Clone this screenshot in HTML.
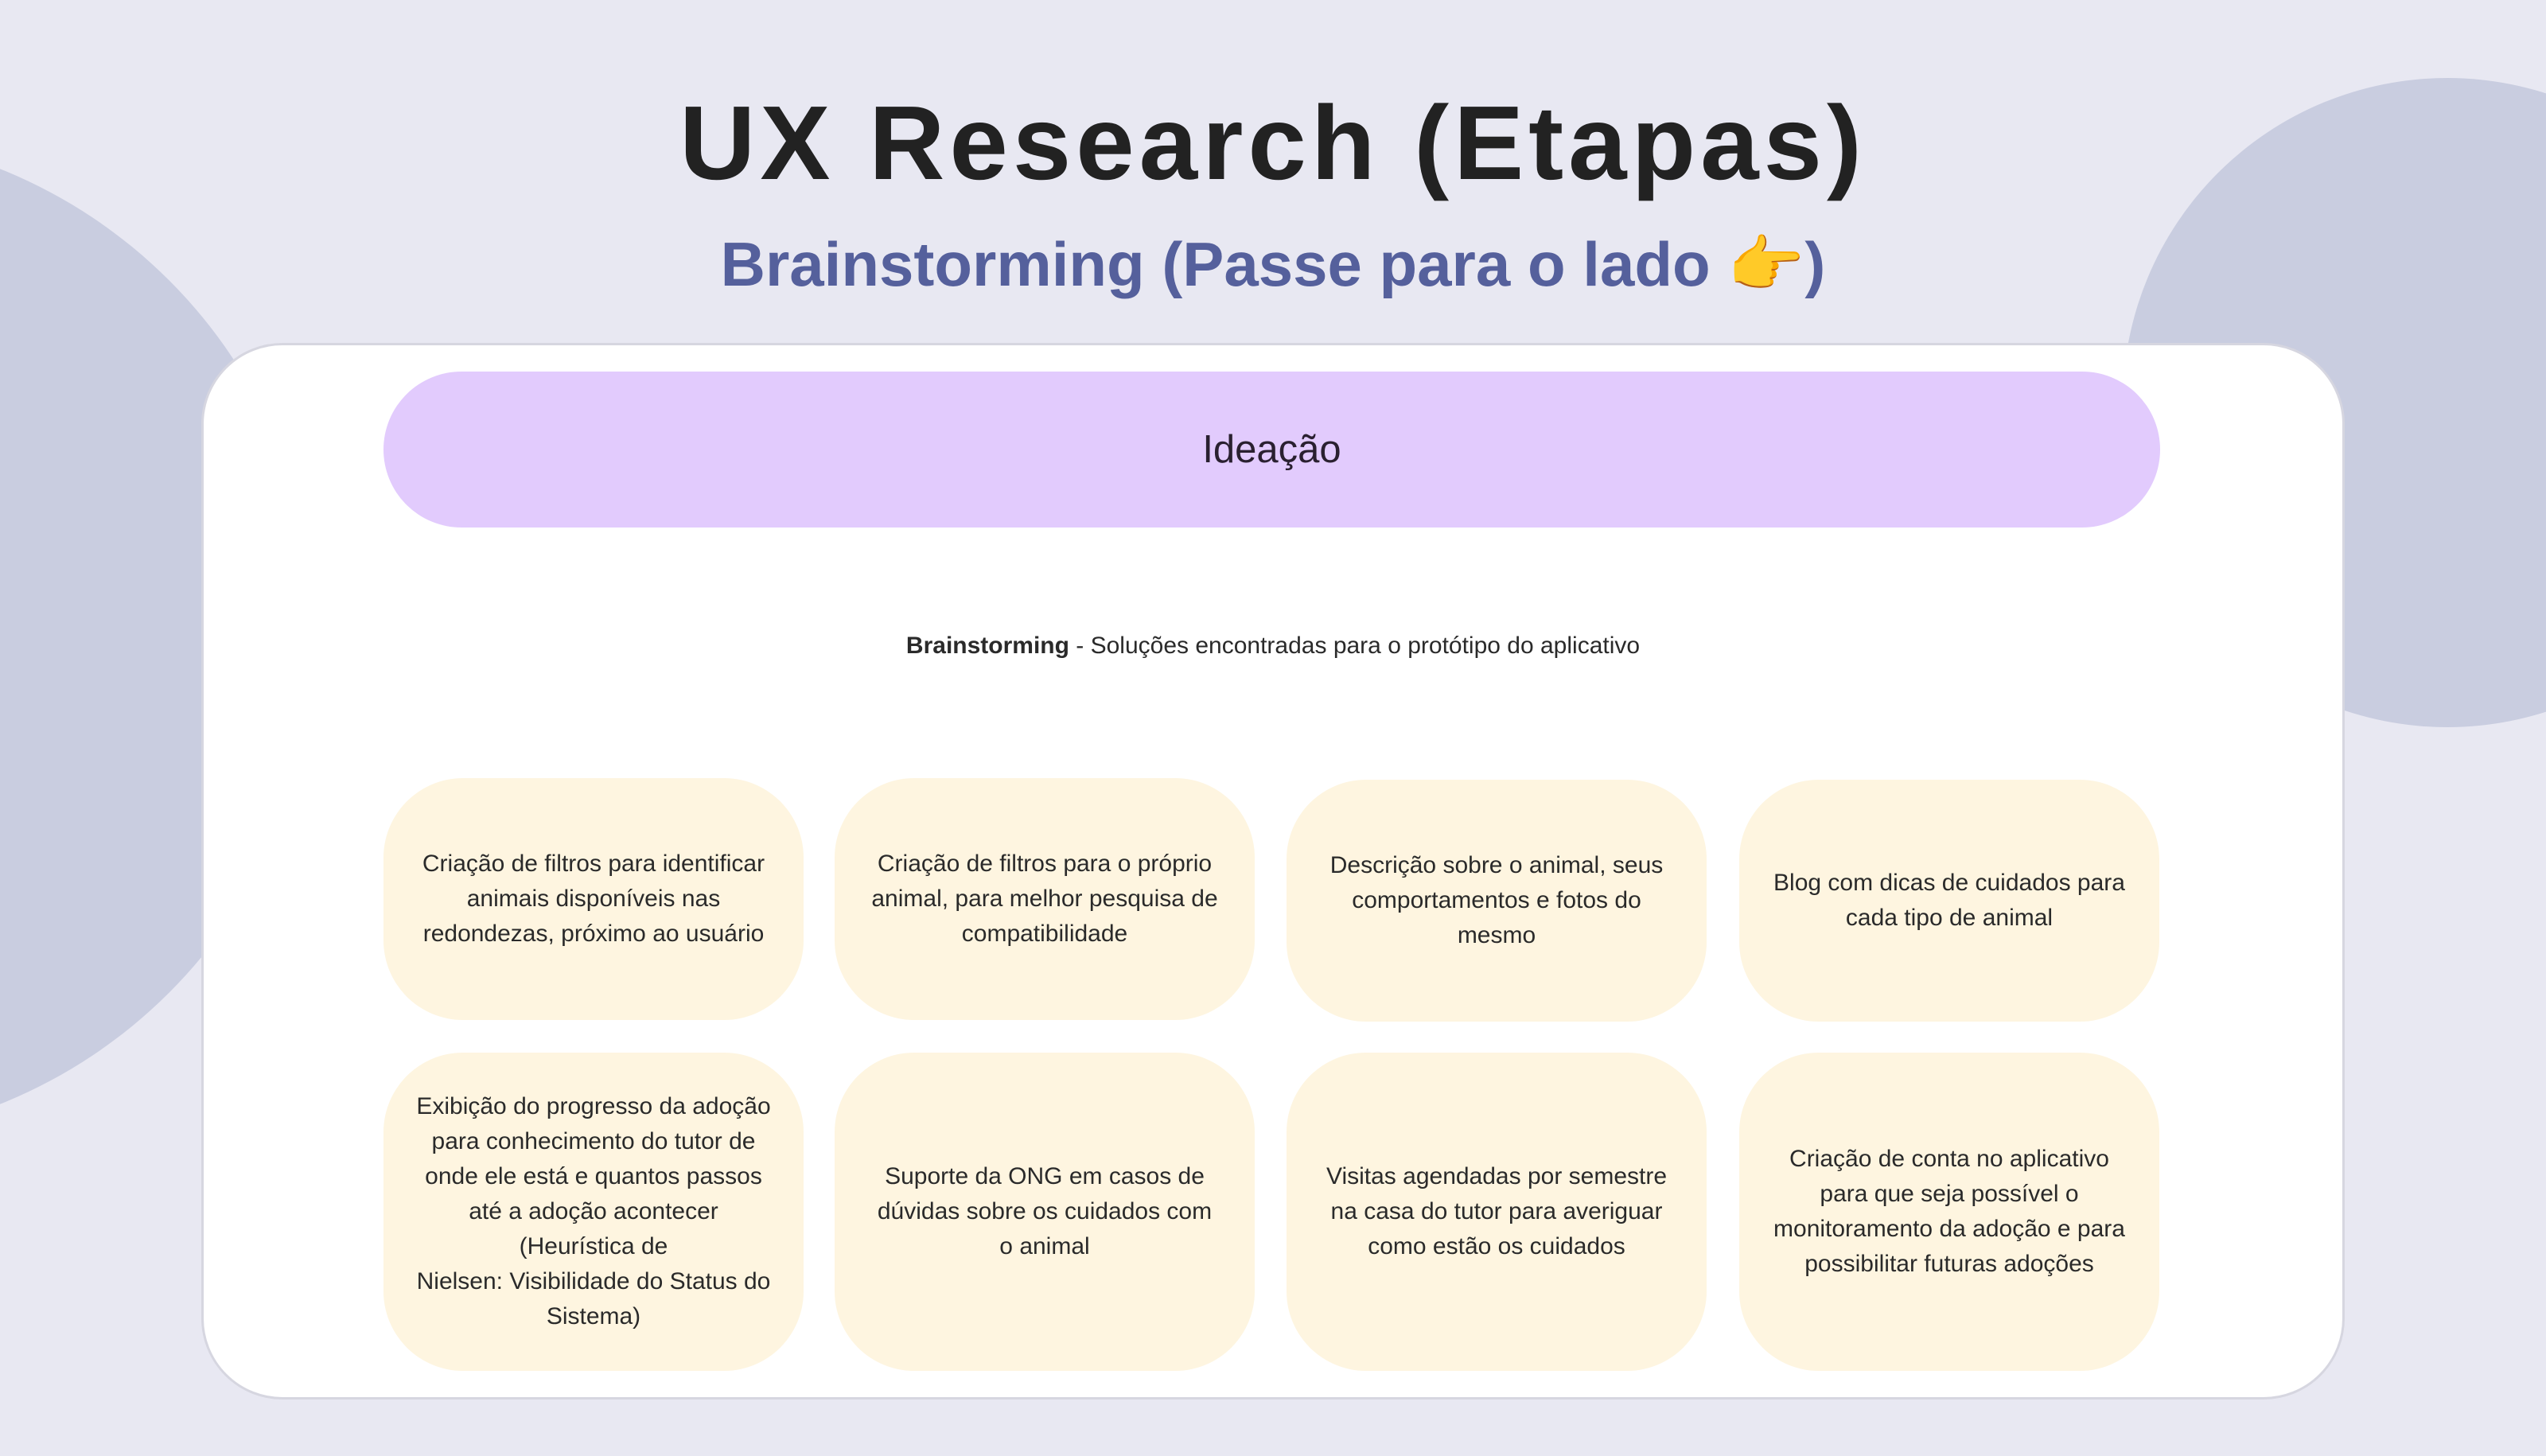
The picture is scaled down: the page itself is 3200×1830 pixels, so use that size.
<!DOCTYPE html>
<html><head><meta charset="utf-8"><style>
*{margin:0;padding:0;box-sizing:border-box}
html,body{width:3200px;height:1830px;overflow:hidden}
body{background:#e8e8f2;position:relative;font-family:"Liberation Sans",sans-serif;color:#2a2a2a}
.circ{position:absolute;border-radius:50%;background:#c9cde0}
h1{position:absolute;left:0;width:3200px;top:105px;text-align:center;font-size:132px;font-weight:700;color:#222;letter-spacing:6px;line-height:150px}
h2{position:absolute;left:0;width:3200px;top:282px;text-align:center;font-size:78px;font-weight:700;color:#55609c;line-height:100px}
.card{position:absolute;left:253px;top:431px;width:2694px;height:1328px;background:#fff;border:3px solid #d6d6e0;border-radius:102px}
.bar{position:absolute;left:482px;top:467px;width:2233px;height:196px;background:#e2cbfd;border-radius:98px;display:flex;align-items:center;justify-content:center;font-size:49px;color:#2a2030}
.sub{position:absolute;left:0;width:3200px;top:790px;text-align:center;font-size:30px;line-height:44px}
.n{position:absolute;width:528px;background:#fef5e0;border-radius:100px;display:flex;align-items:center;justify-content:center;text-align:center;font-size:30px;line-height:44px;padding:0 30px}
.n.w{padding:0 10px;white-space:nowrap}
</style></head><body>
<div class="circ" style="left:-868px;top:167px;width:1266px;height:1266px"></div>
<div class="circ" style="left:2668px;top:98px;width:816px;height:816px"></div>
<h1>UX Research (Etapas)</h1>
<h2>Brainstorming (Passe para o lado 👉)</h2>
<div class="card"></div>
<div class="bar">Ideação</div>
<div class="sub"><b>Brainstorming</b> - Soluções encontradas para o protótipo do aplicativo</div>
<div class="n" style="left:482px;top:978px;height:304px">Criação de filtros para identificar animais disponíveis nas redondezas, próximo ao usuário</div>
<div class="n" style="left:1049px;top:978px;height:304px">Criação de filtros para o próprio animal, para melhor pesquisa de compatibilidade</div>
<div class="n" style="left:1617px;top:980px;height:304px">Descrição sobre o animal, seus comportamentos e fotos do mesmo</div>
<div class="n" style="left:2186px;top:980px;height:304px">Blog com dicas de cuidados para cada tipo de animal</div>
<div class="n w" style="left:482px;top:1323px;height:400px"><div>Exibição do progresso da adoção<br>para conhecimento do tutor de<br>onde ele está e quantos passos<br>até a adoção acontecer<br>(Heurística de<br>Nielsen: Visibilidade do Status do<br>Sistema)</div></div>
<div class="n" style="left:1049px;top:1323px;height:400px">Suporte da ONG em casos de dúvidas sobre os cuidados com<br>o animal</div>
<div class="n" style="left:1617px;top:1323px;height:400px">Visitas agendadas por semestre na casa do tutor para averiguar como estão os cuidados</div>
<div class="n" style="left:2186px;top:1323px;height:400px">Criação de conta no aplicativo para que seja possível o monitoramento da adoção e para possibilitar futuras adoções</div>
</body></html>
